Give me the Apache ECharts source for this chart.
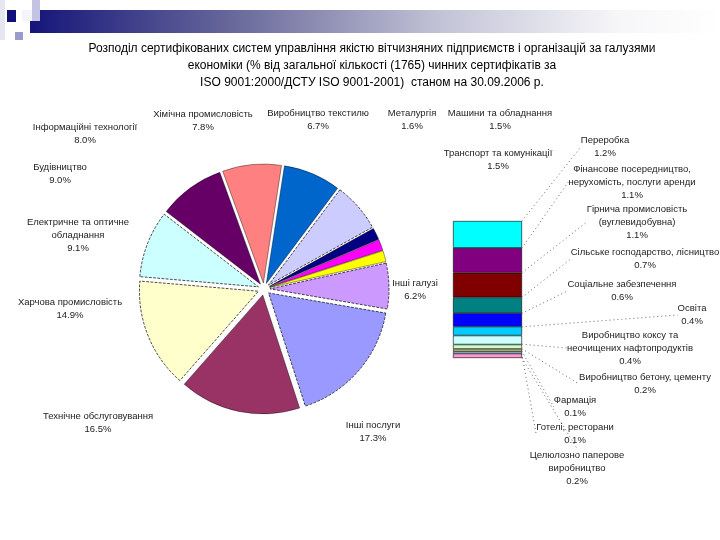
<!DOCTYPE html>
<html>
<head>
<meta charset="utf-8">
<script src="https://cdn.jsdelivr.net/npm/echarts@6/dist/echarts.min.js"></script>
<style>
html,body{margin:0;padding:0;background:#fff;}
#c{width:720px;height:540px;}
</style>
</head>
<body>
<div id="c"></div>
<script>
// ---- data ----
const pieNames = ['Інформаційні технології', 'Хімічна промисловість', 'Виробництво текстилю', 'Металургія',
  'Машини та обладнання', 'Транспорт та комунікації', 'Інші галузі', 'Інші послуги',
  'Технічне обслуговування', 'Харчова промисловість', 'Електричне та оптичне\nобладнання', 'Будівництво'];
const pieValues = [8.0, 7.8, 6.7, 1.6, 1.5, 1.5, 6.2, 17.3, 16.5, 14.9, 9.1, 9.0];

const barNames = ['Переробка', 'Фінансове посередництво,\nнерухомість, послуги аренди', 'Гірнича промисловість\n(вуглевидобувна)',
  'Сільське господарство, лісництво', 'Соціальне забезпечення', 'Освіта', 'Виробництво коксу та\nнеочищених нафтопродуктів',
  'Виробництво бетону, цементу', 'Фармація', 'Готелі, ресторани', 'Целюлозно паперове\nвиробництво'];
const barValues = [1.2, 1.1, 1.1, 0.7, 0.6, 0.4, 0.4, 0.2, 0.1, 0.1, 0.2];

const titleLines = ['Розподіл сертифікованих систем управління якістю вітчизняних підприємств і організацій за галузями',
  'економіки (% від загальної кількості (1765) чинних сертифікатів за',
  'ISO 9001:2000/ДСТУ ISO 9001-2001)  станом на 30.09.2006 р.'];

// ---- styles ----
const pieColors = ['#ff8080', '#0066cc', '#ccccff', '#000080', '#ff00ff', '#ffff00', '#cc99ff', '#9999ff',
  '#993366', '#ffffcc', '#ccffff', '#660066'];
const pieDashed = [false, false, true, false, false, false, true, true, false, true, true, false];
const barColors = ['#00ffff', '#800080', '#800000', '#008080', '#0000ff', '#00ccff', '#ccffff', '#ccffcc',
  '#ffff99', '#99ccff', '#ff99cc'];
// label anchor positions (label block centres)
const pieLabelPos = [[85, 134], [203, 121], [318, 120], [412, 120], [500, 120], [498, 160], [415, 290],
  [373, 432], [98, 423], [70, 309], [78, 235], [60, 174]];
const barLabelPos = [[605, 147], [632, 182], [637, 222], [645, 259], [622, 291], [692, 315], [630, 348],
  [645, 384], [575, 407], [575, 434], [577, 468]];

const FONT = 'Liberation Sans';
const fmt = v => v.toFixed(1) + '%';
const leader = {show: true, lineStyle: {color: '#666', width: 1, type: [1, 3]}};
const labelStyle = {fontSize: 9.5, fontFamily: FONT, color: '#222', lineHeight: 13, align: 'center'};

const barTotal = barValues.reduce((a, b) => a + b, 0);

const chart = echarts.init(document.getElementById('c'), null, {renderer: 'canvas'});

const barSeries = barValues.map((v, i) => ({
  type: 'bar',
  stack: 'rest',
  name: barNames[i],
  data: [v],
  barWidth: '100%',
  silent: true,
  itemStyle: {color: barColors[i], borderColor: '#000', borderWidth: 0.6},
  label: Object.assign({show: true, position: 'inside', formatter: () => barNames[i] + '\n' + fmt(v)}, labelStyle),
  labelLayout: {x: barLabelPos[i][0], y: barLabelPos[i][1], align: 'center', verticalAlign: 'middle'},
  labelLine: leader
}));

// pie slice labels (text placed beside the pie)
const pieLabelTexts = pieValues.map((v, i) => ({
  type: 'text', silent: true, z: 10,
  x: pieLabelPos[i][0], y: pieLabelPos[i][1],
  style: {text: pieNames[i] + '\n' + fmt(v), align: 'center', verticalAlign: 'middle',
    fontSize: 9.5, fontFamily: FONT, fill: '#222', lineHeight: 13}
}));

const option = {
  animation: false,
  backgroundColor: '#fff',
  title: {
    text: titleLines.join('\n'),
    left: 367, top: 35, textAlign: 'center',
    textStyle: {fontSize: 12, fontFamily: FONT, fontWeight: 'normal', color: '#000', lineHeight: 17}
  },
  graphic: [
    {type: 'rect', shape: {x: 30, y: 10, width: 690, height: 23}, silent: true,
      style: {fill: new echarts.graphic.LinearGradient(0, 0, 1, 0, [
        {offset: 0, color: '#15157a'}, {offset: 0.3, color: '#6a6a9c'},
        {offset: 0.6, color: '#c4c4d8'}, {offset: 0.85, color: '#f6f6f8'}, {offset: 1, color: '#ffffff'}])}},
    {type: 'rect', shape: {x: 32, y: 0, width: 8, height: 21}, silent: true, style: {fill: '#c4c4e2'}},
    {type: 'rect', shape: {x: 22, y: 10, width: 10, height: 11}, silent: true, style: {fill: '#f4f4fa'}},
    {type: 'rect', shape: {x: 7, y: 10, width: 9, height: 12}, silent: true, style: {fill: '#10107a'}},
    {type: 'rect', shape: {x: 15, y: 32, width: 8, height: 8}, silent: true, style: {fill: '#9a9acc'}},
    {type: 'rect', shape: {x: 0, y: 0, width: 5, height: 40}, silent: true, style: {fill: '#e6e6f0'}}
  ].concat(pieLabelTexts),
  grid: {left: 453, width: 69, top: 221, height: 137},
  xAxis: {type: 'category', data: ['rest'], show: false},
  yAxis: {type: 'value', inverse: true, min: 0, max: barTotal, show: false},
  series: [
    {
      type: 'pie',
      center: [264, 289],
      radius: 119,
      startAngle: 110,
      clockwise: true,
      selectedMode: 'multiple',
      selectedOffset: 6,
      silent: true,
      emphasis: {disabled: true},
      data: pieValues.map((v, i) => ({
        name: pieNames[i], value: v, selected: true,
        itemStyle: {color: pieColors[i], borderColor: '#000', borderWidth: pieDashed[i] ? 0.7 : 0.4,
          borderType: pieDashed[i] ? 'dashed' : 'solid'}
      })),
      label: {show: false},
      labelLine: {show: false}
    }
  ].concat(barSeries)
};
chart.setOption(option);
</script>
</body>
</html>
